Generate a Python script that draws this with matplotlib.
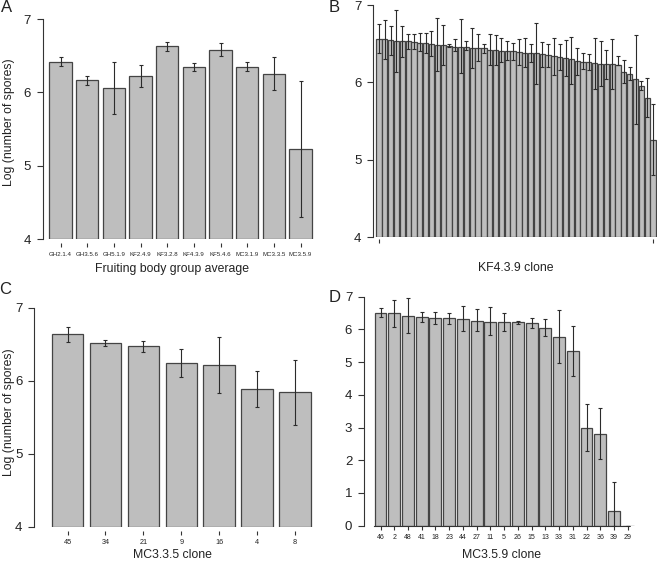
import numpy as np
import matplotlib
matplotlib.use("Agg")
import matplotlib.pyplot as plt

plt.rcParams['font.family'] = ['Liberation Sans', 'DejaVu Sans']

# panel A: fruiting body group averages
groups = ["GH2.1.4", "GH3.5.6", "GH5.1.9", "KF2.4.9", "KF3.2.8",
          "KF4.3.9", "KF5.4.6", "MC3.1.9", "MC3.3.5", "MC3.5.9"]
group_mean = [6.42, 6.165, 6.06, 6.22, 6.63, 6.34, 6.58, 6.35, 6.25, 5.23]
group_hi = [6.48, 6.23, 6.42, 6.37, 6.69, 6.40, 6.67, 6.42, 6.48, 6.16]
group_lo = [6.36, 6.10, 5.70, 6.07, 6.57, 6.29, 6.50, 6.29, 6.03, 4.30]

# panel B: KF4.3.9 clones (48, sorted)
kf_mean = [6.56, 6.56, 6.55, 6.53, 6.53, 6.53, 6.52, 6.51, 6.51, 6.49,
           6.48, 6.48, 6.47, 6.46, 6.46, 6.46, 6.44, 6.44, 6.44, 6.42,
           6.42, 6.41, 6.40, 6.40, 6.39, 6.38, 6.38, 6.38, 6.37, 6.36,
           6.34, 6.33, 6.32, 6.30, 6.28, 6.27, 6.26, 6.25, 6.24, 6.24,
           6.24, 6.23, 6.13, 6.11, 6.04, 5.95, 5.80, 5.26]
kf_hi = [6.76, 6.80, 6.73, 6.94, 6.73, 6.63, 6.62, 6.64, 6.64, 6.66,
         6.83, 6.74, 6.49, 6.56, 6.82, 6.54, 6.70, 6.62, 6.50, 6.63,
         6.61, 6.57, 6.53, 6.51, 6.56, 6.57, 6.50, 6.77, 6.52, 6.50,
         6.57, 6.50, 6.55, 6.59, 6.45, 6.38, 6.37, 6.57, 6.53, 6.42,
         6.56, 6.34, 6.29, 6.20, 6.61, 6.02, 6.06, 5.72]
kf_lo = [6.38, 6.30, 6.36, 6.13, 6.33, 6.43, 6.43, 6.40, 6.38, 6.34,
         6.15, 6.23, 6.46, 6.40, 6.12, 6.42, 6.18, 6.28, 6.38, 6.23,
         6.23, 6.26, 6.29, 6.29, 6.22, 6.20, 6.27, 5.98, 6.20, 6.20,
         6.10, 6.16, 6.08, 5.98, 6.10, 6.17, 6.16, 5.92, 5.96, 6.05,
         5.91, 6.22, 5.99, 6.03, 5.46, 5.90, 5.55, 4.80]

# panel C: MC3.3.5 clones
mc335_ids = ["45", "34", "21", "9", "16", "4", "8"]
mc335_mean = [6.64, 6.52, 6.47, 6.24, 6.21, 5.89, 5.84]
mc335_hi = [6.74, 6.56, 6.55, 6.43, 6.60, 6.13, 6.28]
mc335_lo = [6.53, 6.47, 6.39, 6.05, 5.83, 5.64, 5.39]

# panel D: MC3.5.9 clones
mc359_ids = ["46", "2", "48", "41", "18", "23", "44", "27", "11", "5",
             "26", "15", "13", "33", "31", "22", "36", "39", "29"]
mc359_mean = [6.51, 6.49, 6.42, 6.39, 6.35, 6.35, 6.33, 6.27, 6.24, 6.22,
              6.22, 6.19, 6.05, 5.77, 5.33, 3.00, 2.80, 0.46, 0.0]
mc359_hi = [6.66, 6.91, 6.95, 6.54, 6.52, 6.51, 6.72, 6.61, 6.67, 6.50,
            6.27, 6.34, 6.33, 6.59, 6.09, 3.72, 3.59, 1.33, 0.0]
mc359_lo = [6.37, 6.08, 5.90, 6.24, 6.18, 6.18, 5.95, 5.96, 5.82, 5.96,
            6.17, 6.03, 5.80, 4.96, 4.58, 2.29, 2.03, 0.0, 0.0]

W, H = 657, 561
fig = plt.figure(figsize=(W / 100, H / 100), dpi=100)

BAR = '#bebebe'
EDGE = '#444444'
AXC = '#333333'
TXT = '#222222'


def panel(x0, x1, y0, y1, first_c, last_c, n, offset=3):
    ax = fig.add_axes([x0 / W, 1 - y1 / H, (x1 - x0) / W, (y1 - y0) / H])
    s = (last_c - first_c) / (n - 1)
    ax.set_xlim((x0 - first_c) / s, (x1 - first_c) / s)
    for sp in ['top', 'right']:
        ax.spines[sp].set_visible(False)
    ax.spines['bottom'].set_position(('outward', offset))
    ax.spines['bottom'].set_color('none')
    ax.spines['left'].set_color(AXC)
    ax.spines['left'].set_linewidth(0.8)
    ax.tick_params(axis='y', length=4.5, width=0.8, color=AXC, pad=4,
                   labelsize=9.5, labelcolor=TXT)
    ax.tick_params(axis='x', length=3, width=0.8, color=AXC, pad=3,
                   labelcolor=TXT)
    return ax


def bars(ax, mean, hi, lo, width, base, lw=0.9, cap=1.5):
    x = np.arange(len(mean))
    m = np.array(mean)
    ax.bar(x, m - base, width=width, bottom=base, color=BAR,
           edgecolor=EDGE, linewidth=lw, zorder=2)
    yerr = [m - np.array(lo), np.array(hi) - m]
    ax.errorbar(x, m, yerr=yerr, fmt='none', ecolor='#2b2b2b',
                elinewidth=0.8, capsize=cap, capthick=0.8, zorder=3)
    return x


def ftext(px, py, s, **kw):
    fig.text(px / W, 1 - py / H, s, ha='center', va='center', color=TXT, **kw)


# A
axA = panel(42.7, 318, 19, 239.3, 60.5, 300.5, 10)
x = bars(axA, group_mean, group_hi, group_lo, 0.84, 4)
axA.set_ylim(4, 7)
axA.set_yticks([4, 5, 6, 7])
axA.set_xticks(x)
axA.set_xticklabels(groups, fontsize=4.4)
ftext(172, 269, "Fruiting body group average", fontsize=8.8)
ftext(9, 122, "Log (number of spores)", fontsize=8.8, rotation=90)

# B
axB = panel(373.3, 657, 5, 237.3, 379, 653, 48, offset=1)
x = bars(axB, kf_mean, kf_hi, kf_lo, 0.9, 4, lw=0.9, cap=1.2)
axB.set_ylim(4, 7)
axB.set_yticks([4, 5, 6, 7])
axB.set_xticks([x[0], x[-1]])
axB.set_xticklabels(["", ""])
ftext(516, 268, "KF4.3.9 clone", fontsize=8.8)

# C
axC = panel(34.3, 318, 307.7, 526.7, 67.5, 295, 7)
x = bars(axC, mc335_mean, mc335_hi, mc335_lo, 0.83, 4)
axC.set_ylim(4, 7)
axC.set_yticks([4, 5, 6, 7])
axC.set_xticks(x)
axC.set_xticklabels(mc335_ids, fontsize=5.2)
ftext(172, 555, "MC3.3.5 clone", fontsize=8.8)
ftext(9, 412, "Log (number of spores)", fontsize=8.8, rotation=90)

# D
axD = panel(364, 645, 296.7, 525.7, 380.5, 627.7, 19, offset=0)
x = bars(axD, mc359_mean, mc359_hi, mc359_lo, 0.87, 0)
axD.set_ylim(0, 7)
axD.set_yticks(range(8))
axD.set_xticks(x)
axD.set_xticklabels(mc359_ids, fontsize=5)
axD.spines['bottom'].set_color(AXC)
axD.spines['bottom'].set_linewidth(0.8)
axD.spines['bottom'].set_bounds(x[0] - 0.5, x[-1] + 0.1)
ftext(502, 555, "MC3.5.9 clone", fontsize=8.8)

for lab, px, py in [("A", 7, 8), ("B", 334, 8), ("C", 5, 289), ("D", 335, 297)]:
    ftext(px, py, lab, fontsize=12)

fig.savefig("out.png", dpi=100)
